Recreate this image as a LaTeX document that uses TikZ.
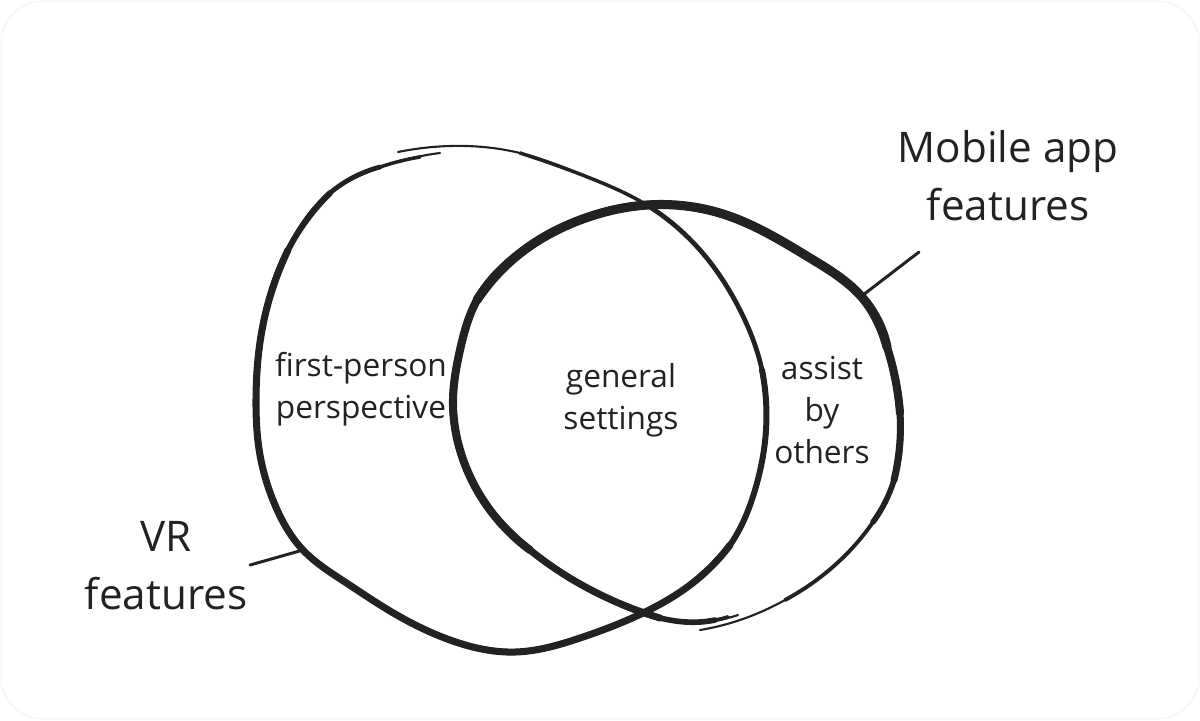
\documentclass[tikz,border=0pt]{standalone}
\usepackage{fontspec}
\setmainfont{Open Sans}
\usepackage{tikz}
\usetikzlibrary{positioning,hobby}
\definecolor{ink}{HTML}{222222}

\begin{document}
\begin{tikzpicture}[
  x=0.01cm, y=-0.01cm, use Hobby shortcut,
  brush/.style={draw=ink, line cap=round, line join=round},
  part/.style={font=\fontsize{9}{12}\selectfont, align=center, text=ink},
  setname/.style={font=\fontsize{12}{16.5}\selectfont, align=center, text=ink},
  pointer/.style={draw=ink, line width=0.85pt, line cap=round}
]
\useasboundingbox (0,0) rectangle (1200,720);
\draw[black!4, line width=0.4pt, rounded corners=12pt] (1,1) rectangle (1199,719);

% VR blob
\draw[brush, line width=0.6pt] (398,152) .. (450,146) .. (520,153) .. (590,178)
  .. (650,207) .. (700,250) .. (740,310) .. (762,370) .. (766,430) .. (755,490)
  .. (730,545) .. (690,585) .. (643,613) .. (580,638) .. (515,652) .. (450,640)
  .. (390,611) .. (345,582) .. (303,550) .. (275,505) .. (260,455) .. (256,400)
  .. (262,330) .. (288,250) .. (330,193) .. (380,167) .. (440,153);
\draw[brush, line width=1pt] (520,153) .. (590,178)
  .. (650,207) .. (700,250) .. (740,310) .. (762,370) .. (766,430) .. (755,490)
  .. (730,545) .. (690,585) .. (643,613) .. (580,638) .. (515,652) .. (450,640)
  .. (390,611) .. (345,582) .. (303,550) .. (275,505) .. (260,455) .. (256,400)
  .. (262,330) .. (288,250) .. (330,193) .. (380,167) .. (420,157);
\draw[brush, line width=1.35pt] (650,207) .. (700,250) .. (740,310) .. (762,370) .. (766,430) .. (755,490)
  .. (730,545) .. (690,585) .. (643,613) .. (580,638) .. (515,652) .. (450,640)
  .. (390,611) .. (345,582) .. (303,550) .. (275,505) .. (260,455) .. (256,400)
  .. (262,330) .. (288,250) .. (330,193) .. (380,167);
\draw[brush, line width=1.7pt] (762,370) .. (766,430) .. (755,490)
  .. (730,545) .. (690,585) .. (643,613) .. (580,638) .. (515,652) .. (450,640)
  .. (390,611) .. (345,582) .. (303,550) .. (275,505) .. (260,455) .. (256,400)
  .. (262,330) .. (288,250) .. (330,193);
\draw[brush, line width=2pt] (730,545) .. (690,585) .. (643,613) .. (580,638) .. (515,652) .. (450,640)
  .. (390,611) .. (345,582) .. (303,550) .. (275,505) .. (260,455) .. (256,400)
  .. (262,330) .. (288,250);

% mobile app blob
\draw[brush, line width=0.6pt] (738,615) .. (700,622) .. (660,618) .. (597,593)
  .. (530,550) .. (483,500) .. (460,450) .. (453,400) .. (460,350) .. (477,300)
  .. (527,248) .. (580,220) .. (647,205) .. (723,214) .. (810,258)
  .. (860,295) .. (887,347) .. (900,413) .. (894,480) .. (873,522) .. (835,565)
  .. (785,600) .. (740,620) .. (700,630);
\draw[brush, line width=1.1pt] (728,617) .. (700,622) .. (660,618) .. (597,593)
  .. (530,550) .. (483,500) .. (460,450) .. (453,400) .. (460,350) .. (477,300)
  .. (527,248) .. (580,220) .. (647,205) .. (723,214) .. (810,258)
  .. (860,295) .. (887,347) .. (900,413) .. (894,480) .. (873,522) .. (835,565) .. (785,600);
\draw[brush, line width=1.6pt] (715,620) .. (700,622) .. (660,618) .. (597,593)
  .. (530,550) .. (483,500) .. (460,450) .. (453,400) .. (460,350) .. (477,300)
  .. (527,248) .. (580,220) .. (647,205) .. (723,214) .. (810,258)
  .. (860,295) .. (887,347) .. (900,413) .. (894,480) .. (873,522);
\draw[brush, line width=2pt] (660,618) .. (597,593)
  .. (530,550) .. (483,500) .. (460,450) .. (453,400) .. (460,350) .. (477,300)
  .. (527,248) .. (580,220) .. (647,205) .. (723,214) .. (810,258)
  .. (860,295) .. (887,347) .. (900,413) .. (894,480);
\draw[brush, line width=2.3pt] (530,550) .. (483,500) .. (460,450) .. (453,400) .. (460,350) .. (477,300)
  .. (527,248) .. (580,220) .. (647,205) .. (723,214) .. (810,258)
  .. (860,295) .. (887,347) .. (900,413);
\draw[brush, line width=2.6pt] (477,300) .. (527,248) .. (580,220) .. (647,205) .. (723,214) .. (810,258)
  .. (860,295) .. (887,347);

% labels
\node[part] (fpp) at (361,389) {first-person\\perspective};
\node[part] (gen) at (621,400) {general\\settings};
\node[part] (asst) at (822,410) {assist\\by\\others};
\node[setname] (mob) at (1008,176) {Mobile app\\features};
\node[setname] (vr) at (166,566) {VR\\features};

\coordinate (mobtip) at (919,252);
\coordinate (mobhit) at (863,295);
\coordinate (vrtip) at (250,565);
\coordinate (vrhit) at (303,550);
\draw[pointer] (mobtip) -- (mobhit);
\draw[pointer] (vrtip) -- (vrhit);
\end{tikzpicture}
\end{document}
